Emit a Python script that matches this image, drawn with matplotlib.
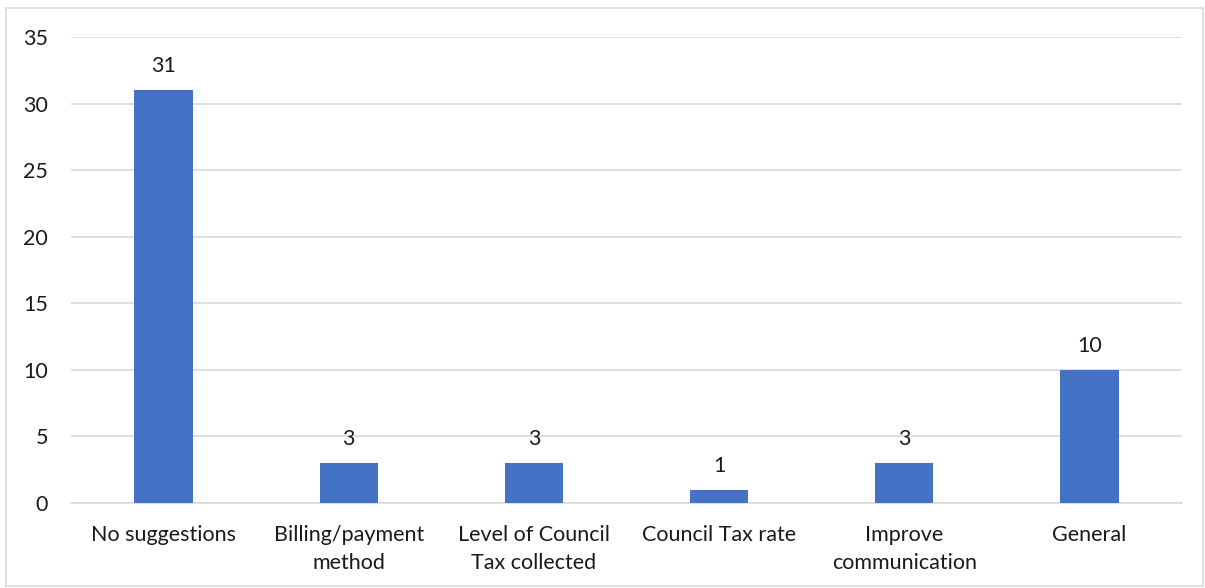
import matplotlib.pyplot as plt
from matplotlib.patches import Rectangle

categories = ["No suggestions", "Billing/payment\nmethod", "Level of Council\nTax collected",
              "Council Tax rate", "Improve\ncommunication", "General"]
counts = [31, 3, 3, 1, 3, 10]
yticks = [0, 5, 10, 15, 20, 25, 30, 35]

plt.rcParams['font.family'] = ['Lato', 'DejaVu Sans']
FS = 15.5
INK = "#1a1a1a"

fig = plt.figure(figsize=(12.05, 5.88), dpi=100)
ax = fig.add_axes([71 / 1205, 1 - 503 / 588, (1182 - 71) / 1205, (503 - 37) / 588])

x = range(len(categories))
bars = ax.bar(x, counts, width=0.315, color="#4472C4", zorder=3)
for b, v in zip(bars, counts):
    ax.annotate(str(v), (b.get_x() + b.get_width() / 2, v), xytext=(0, 10),
                textcoords="offset points", ha="center", va="bottom", fontsize=FS, color=INK)

ax.set_xlim(-0.5, len(categories) - 0.5)
ax.set_ylim(0, 35)
ax.set_yticks(yticks)
ax.set_xticks(list(x))
ax.set_xticklabels(categories, fontsize=FS, color=INK, linespacing=1.5)
ax.tick_params(axis="y", labelsize=FS, labelcolor=INK, length=0, pad=16.5)
ax.tick_params(axis="x", length=0, pad=16)
ax.grid(axis="y", color="#d9d9d9", linewidth=1.2, zorder=0)
for s in ["top", "left", "right"]:
    ax.spines[s].set_visible(False)
ax.spines["bottom"].set_color("#d9d9d9")
ax.spines["bottom"].set_linewidth(1.2)

# outer chart frame
fig.patches.append(Rectangle((6 / 1205, 2 / 588), 1197 / 1205, 578 / 588, transform=fig.transFigure,
                             fill=False, edgecolor="#d9d9d9", linewidth=1.2))

fig.savefig("out.png", dpi=100)
